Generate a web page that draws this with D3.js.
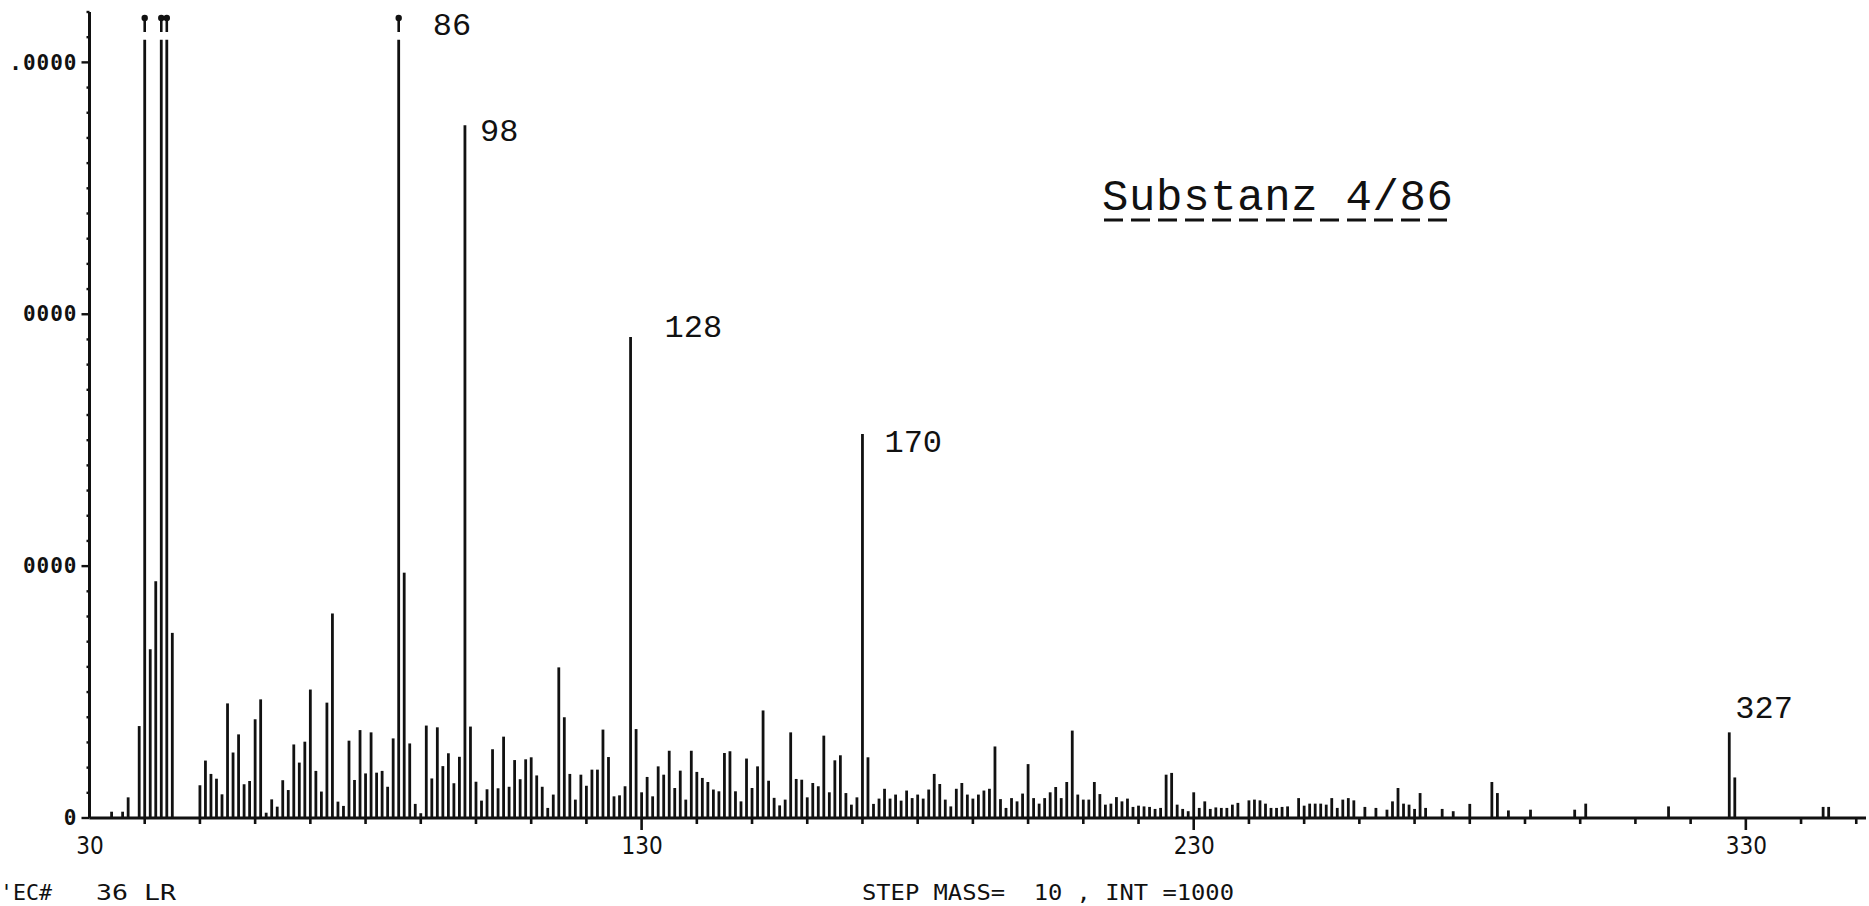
<!DOCTYPE html>
<html><head><meta charset="utf-8">
<script src="https://cdn.jsdelivr.net/npm/d3@7"></script>
<style>html,body{margin:0;padding:0;background:#fff;overflow:hidden} svg{display:block}</style>
</head><body>
<svg id="chart" width="1869" height="906"></svg>
<script>
// ---- data ----
const masses = [34,36,37,39,40,41,42,43,44,45,
 50,51,52,53,54,55,56,57,58,59,60,61,62,63,64,65,66,67,68,69,70,71,72,73,74,75,76,77,78,79,80,81,82,83,84,85,86,
 87,88,89,90,91,92,93,94,95,96,97,98,99,100,101,102,103,104,105,106,107,108,109,110,111,112,113,114,115,116,117,118,119,120,
 121,122,123,124,125,126,127,128,129,130,131,132,133,134,135,136,137,138,139,140,141,142,143,144,145,146,147,148,149,150,
 151,152,153,154,155,156,157,158,159,160,161,162,163,164,165,166,167,168,169,170,171,172,173,174,175,176,177,178,179,180,
 181,182,183,184,185,186,187,188,189,190,191,192,193,194,195,196,197,198,199,200,201,202,203,204,205,206,207,208,209,210,
 211,212,213,214,215,216,217,218,219,220,221,222,223,224,225,226,227,228,229,230,231,232,233,234,235,236,237,238,
 240,241,242,243,244,245,246,247,249,250,251,252,253,254,255,256,257,258,259,261,263,265,266,267,268,269,270,271,272,275,
 277,280,284,285,287,291,299,301,316,327,328,344,345];
const intensities = [250,250,820,3650,45000,6700,9400,42000,52000,7350,
 1300,2280,1750,1560,940,4550,2600,3320,1340,1470,3920,4710,210,740,450,1500,1110,2920,2200,3030,5100,1870,1050,4580,8120,650,480,3070,1510,3490,1770,3400,1800,1870,1240,3160,48000,
 9740,2960,560,190,3670,1570,3600,2060,2570,1380,2430,27500,3630,1440,690,1140,2730,1180,3230,1240,2300,1540,2330,2410,1690,1240,400,930,5980,4000,1750,730,1720,1280,
 1920,1920,3510,2420,860,900,1260,19100,3530,1020,1630,860,2050,1720,2670,1190,1880,730,2670,1830,1590,1430,1130,1060,2580,2650,1060,660,2360,1190,
 2050,4270,1480,800,500,730,3400,1550,1520,820,1390,1260,3270,1020,2290,2490,990,530,820,15250,2410,560,770,1160,770,930,690,1090,790,930,
 770,1130,1750,1350,730,460,1160,1390,930,770,930,1090,1160,2840,750,400,790,660,970,2140,790,570,790,1020,1230,790,1430,3470,930,730,
 730,1430,950,530,570,830,660,770,440,490,460,440,360,400,1720,1790,530,360,270,1020,400,660,360,420,400,400,530,600,
 700,730,700,570,400,400,440,460,790,490,570,570,570,530,790,400,730,790,700,440,400,330,660,1190,570,530,360,990,400,360,
 270,560,1430,990,300,330,330,570,460,3400,1610,440,440];
const labeledPeaks = [86, 98, 128, 170, 327];
const xTickValues = [30, 130, 230, 330];
const yTickValues = [0, 10000, 20000, 30000];
const yTickLabels = ["0", "0000", "0000", ".0000"];
const titleText = "Substanz 4/86";
const footerLeft = ["'EC#", "36 LR"];
const footerRight = "STEP MASS=  10 , INT =1000";

// ---- layout ----
const svg = d3.select("#chart");
const x = d3.scaleLinear().domain([30, 352]).range([89.5, 1867.3]);
const y = d3.scaleLinear().domain([0, 32000]).range([818, 12]);
const clipMax = 30900;
const ink = "#111";

const peaks = masses.map((m, i) => ({m, v: intensities[i]}));

// axes
const gx = svg.append("g").attr("transform", `translate(0,${y(0)})`);
gx.append("line").attr("x1", x(30)).attr("x2", 1866).attr("y1", 0).attr("y2", 0)
  .attr("stroke", ink).attr("stroke-width", 3);
gx.selectAll("line.minor").data(d3.range(40, 351, 10)).join("line")
  .attr("class", "minor").attr("x1", d => x(d)).attr("x2", d => x(d))
  .attr("y1", 0).attr("y2", d => (d - 30) % 100 === 0 ? 12 : 6)
  .attr("stroke", ink).attr("stroke-width", 2.6);
const xAxis = d3.axisBottom(x).tickValues(xTickValues).tickSize(0).tickPadding(34).tickFormat(d3.format("d"));
const gxa = svg.append("g").attr("transform", `translate(0,${y(0) + 2})`).call(xAxis);
gxa.select(".domain").remove();
gxa.selectAll("text").attr("font-family", "'Liberation Sans Narrow','DejaVu Sans Condensed',sans-serif")
  .attr("font-size", 24).attr("fill", ink).attr("dy", 0);

const gy = svg.append("g");
gy.append("line").attr("x1", x(30)).attr("x2", x(30)).attr("y1", y(0)).attr("y2", y(32000))
  .attr("stroke", ink).attr("stroke-width", 3);
gy.selectAll("line.yt").data(d3.range(0, 32001, 1000)).join("line")
  .attr("class", "yt").attr("x1", x(30)).attr("x2", d => x(30) - (d % 10000 === 0 ? 8 : 3))
  .attr("y1", d => y(d)).attr("y2", d => y(d)).attr("stroke", ink).attr("stroke-width", 2.4);
const yAxis = d3.axisLeft(y).tickValues(yTickValues).tickSize(0).tickPadding(12)
  .tickFormat((d, i) => yTickLabels[i]);
const gya = svg.append("g").attr("transform", `translate(${x(30)},0)`).call(yAxis);
gya.select(".domain").remove();
gya.selectAll("text").attr("font-family", "'DejaVu Sans Mono',monospace").attr("font-weight", "bold")
  .attr("font-size", 21).attr("fill", ink).attr("letter-spacing", 1);

// peaks
svg.append("g").selectAll("line").data(peaks).join("line")
  .attr("x1", d => x(d.m)).attr("x2", d => x(d.m))
  .attr("y1", y(0)).attr("y2", d => y(Math.min(d.v, clipMax)))
  .attr("stroke", ink).attr("stroke-width", 2.8);

// off-scale markers
const off = peaks.filter(d => d.v > clipMax);
const gm = svg.append("g");
gm.selectAll("line").data(off).join("line")
  .attr("x1", d => x(d.m)).attr("x2", d => x(d.m)).attr("y1", 20).attr("y2", 32)
  .attr("stroke", ink).attr("stroke-width", 2.6);
gm.selectAll("circle").data(off).join("circle")
  .attr("cx", d => x(d.m)).attr("cy", 18).attr("r", 3.2).attr("fill", ink);

// peak labels
const labelOffset = {86: [34, 0, 35], 98: [15, 16, null], 128: [34, 0, null], 170: [22, 18, null], 327: [6, -14, null]};
svg.append("g").selectAll("text").data(peaks.filter(d => labeledPeaks.includes(d.m))).join("text")
  .attr("x", d => x(d.m) + labelOffset[d.m][0])
  .attr("y", d => labelOffset[d.m][2] !== null ? labelOffset[d.m][2] : y(Math.min(d.v, clipMax)) + labelOffset[d.m][1])
  .attr("font-family", "'Liberation Mono','Courier New',monospace").attr("font-size", 32)
  .attr("fill", ink).text(d => d.m);

// title
const tg = svg.append("g");
tg.append("text").attr("x", 1102).attr("y", 210).attr("font-family", "'Liberation Mono','Courier New',monospace")
  .attr("font-size", 44).attr("fill", ink).attr("textLength", 351).text(titleText);
tg.append("line").attr("x1", 1104).attr("x2", 1455).attr("y1", 220).attr("y2", 220)
  .attr("stroke", ink).attr("stroke-width", 3).attr("stroke-dasharray", "19 8");

// footer
const ff = "'DejaVu Sans Mono',monospace";
function foot(txt, x0, len) {
  svg.append("text").attr("x", x0).attr("y", 900).attr("font-family", ff).attr("font-size", 21).attr("fill", ink)
    .attr("textLength", len).attr("lengthAdjust", "spacingAndGlyphs").style("white-space", "pre").text(txt);
}
foot(footerLeft[0], 0, 52);
foot(footerLeft[1], 96, 80);
foot(footerRight, 862, 372);
</script>
</body></html>
